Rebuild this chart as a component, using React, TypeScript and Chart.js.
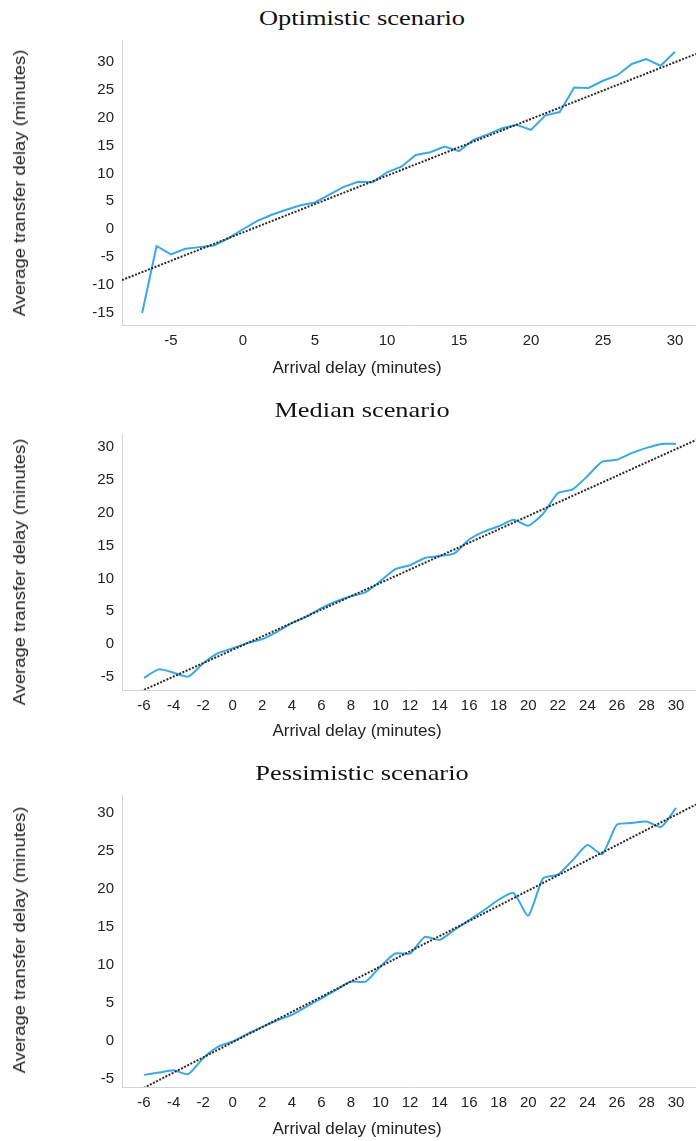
import React, { useEffect, useRef } from "react";
import { Chart, registerables } from "chart.js";

Chart.register(...registerables);

// ---------- Data ----------
const optimisticX = [-7, -6, -5, -4, -3, -2, -1, 0, 1, 2, 3, 4, 5, 6, 7, 8, 9, 10, 11, 12, 13, 14, 15, 16, 17, 18, 19, 20, 21, 22, 23, 24, 25, 26, 27, 28, 29, 30];
const optimisticY = [-15, -3.0, -4.5, -3.5, -3.2, -2.9, -1.6, 0.0, 1.5, 2.6, 3.5, 4.3, 4.8, 6.2, 7.6, 8.5, 8.4, 10.2, 11.2, 13.3, 13.8, 14.8, 14.0, 16.0, 17.0, 18.1, 18.7, 17.8, 20.4, 21.0, 25.4, 25.3, 26.6, 27.6, 29.6, 30.5, 29.3, 31.8];
const optimisticTrendX = [-8.4, 31.46];
const optimisticTrendY = [-9.1, 31.4];

const medianX = [-6, -5, -4, -3, -2, -1, 0, 1, 2, 3, 4, 5, 6, 7, 8, 9, 10, 11, 12, 13, 14, 15, 16, 17, 18, 19, 20, 21, 22, 23, 24, 25, 26, 27, 28, 29, 30];
const medianY = [-5.1, -3.8, -4.3, -4.9, -2.9, -1.35, -0.6, 0.2, 0.8, 1.9, 3.2, 4.2, 5.5, 6.5, 7.3, 7.9, 9.6, 11.4, 12.0, 13.1, 13.4, 13.8, 15.9, 17.1, 17.9, 18.9, 18.0, 19.8, 22.9, 23.5, 25.5, 27.7, 28.0, 29.0, 29.8, 30.4, 30.4];
const medianTrendX = [-7.5, 31.35];
const medianTrendY = [-8.44, 30.99];

const pessimisticX = [-6, -5, -4, -3, -2, -1, 0, 1, 2, 3, 4, 5, 6, 7, 8, 9, 10, 11, 12, 13, 14, 15, 16, 17, 18, 19, 20, 21, 22, 23, 24, 25, 26, 27, 28, 29, 30];
const pessimisticY = [-4.5, -4.2, -3.9, -4.4, -2.3, -0.8, -0.1, 0.9, 1.8, 2.7, 3.4, 4.5, 5.6, 6.7, 7.8, 7.8, 9.8, 11.5, 11.5, 13.7, 13.3, 14.6, 15.9, 17.2, 18.6, 19.5, 16.5, 21.4, 21.9, 23.8, 25.8, 24.6, 28.5, 28.7, 28.9, 28.2, 30.7];
const pessimisticTrendX = [-7.5, 31.35];
const pessimisticTrendY = [-7.7, 31.15];

const optimisticXTicks = [-5, 0, 5, 10, 15, 20, 25, 30];
const optimisticYTicks = [-15, -10, -5, 0, 5, 10, 15, 20, 25, 30];
const evenXTicks = [-6, -4, -2, 0, 2, 4, 6, 8, 10, 12, 14, 16, 18, 20, 22, 24, 26, 28, 30];
const shortYTicks = [-5, 0, 5, 10, 15, 20, 25, 30];

const titles = ["Optimistic scenario", "Median scenario", "Pessimistic scenario"];
const xAxisTitle = "Arrival delay (minutes)";
const yAxisTitle = "Average transfer delay (minutes)";

// ---------- Styles ----------
const LINE_BLUE = "#39a8e4";
const TICK_FONT = { family: "'Liberation Sans', Arial, sans-serif", size: 15 };
const TICK_COLOR = "#222";
const AXIS_COLOR = "#d4d4d4";

type PanelProps = {
  xs: number[];
  ys: number[];
  tx: number[];
  ty: number[];
  xMin: number;
  xMax: number;
  yMin: number;
  yMax: number;
  xTicks: number[];
  yTicks: number[];
  plotTop: number;
  plotHeight: number;
  tension: number;
};

const PAD_TOP = 10;
const TOP_EXTRA = 7; // extra offset chart.js adds for the top tick label
const X_AXIS_H = 40;
const Y_AXIS_W = 122;
const WIDTH = 696;

function Panel(p: PanelProps) {
  const ref = useRef<HTMLCanvasElement | null>(null);
  useEffect(() => {
    if (!ref.current) return;
    const chart = new Chart(ref.current, {
      type: "line",
      data: {
        datasets: [
          {
            data: p.tx.map((x, i) => ({ x, y: p.ty[i] })),
            borderColor: "#2a2a2a",
            borderWidth: 2,
            borderDash: [2, 1.5],
            pointRadius: 0,
            tension: 0,
          },
          {
            data: p.xs.map((x, i) => ({ x, y: p.ys[i] })),
            borderColor: LINE_BLUE,
            borderWidth: 2,
            pointRadius: 0,
            tension: p.tension,
          },
        ],
      },
      options: {
        responsive: false,
        maintainAspectRatio: false,
        animation: false,
        layout: { padding: { top: PAD_TOP, left: 0, right: 0, bottom: 0 } },
        plugins: {
          legend: { display: false },
          tooltip: { enabled: false },
          title: { display: false },
        },
        scales: {
          x: {
            type: "linear",
            min: p.xMin,
            max: p.xMax,
            grid: { display: false, drawTicks: false },
            border: { display: true, color: AXIS_COLOR, width: 1 },
            ticks: { font: TICK_FONT, color: TICK_COLOR, padding: 7, maxRotation: 0, autoSkip: false },
            afterBuildTicks: (s: any) => {
              s.ticks = p.xTicks.map((v) => ({ value: v }));
            },
            afterFit: (s: any) => {
              s.height = X_AXIS_H;
            },
          },
          y: {
            type: "linear",
            min: p.yMin,
            max: p.yMax,
            grid: { display: false, drawTicks: false },
            border: { display: true, color: AXIS_COLOR, width: 1 },
            ticks: { font: TICK_FONT, color: TICK_COLOR, padding: 8, autoSkip: false },
            afterBuildTicks: (s: any) => {
              s.ticks = p.yTicks.map((v) => ({ value: v }));
            },
            afterFit: (s: any) => {
              s.width = Y_AXIS_W;
            },
          },
        },
      },
    } as any);
    return () => chart.destroy();
  }, []);
  const off = PAD_TOP + TOP_EXTRA;
  const h = off + p.plotHeight + X_AXIS_H;
  return (
    <canvas
      ref={ref}
      width={WIDTH}
      height={h}
      style={{ position: "absolute", left: 0, top: p.plotTop - off, width: WIDTH, height: h }}
    />
  );
}

const serif = "'Liberation Serif', 'Times New Roman', serif";
const sans = "'Liberation Sans', Arial, sans-serif";

function Title({ text, cy }: { text: string; cy: number }) {
  return (
    <div
      style={{
        position: "absolute",
        left: 362,
        top: cy,
        transform: "translate(-50%, -50%) scaleX(1.2)",
        fontFamily: serif,
        fontSize: 22,
        lineHeight: "22px",
        whiteSpace: "nowrap",
        color: "#111",
      }}
    >
      {text}
    </div>
  );
}

function XTitle({ cy }: { cy: number }) {
  return (
    <div
      style={{
        position: "absolute",
        left: 357,
        top: cy,
        transform: "translate(-50%, -50%)",
        fontFamily: sans,
        fontSize: 17,
        lineHeight: "17px",
        whiteSpace: "nowrap",
        color: "#222",
      }}
    >
      {xAxisTitle}
    </div>
  );
}

function YTitle({ cy }: { cy: number }) {
  return (
    <div
      style={{
        position: "absolute",
        left: 20,
        top: cy,
        transform: "translate(-50%, -50%) rotate(-90deg) scaleX(1.15)",
        fontFamily: sans,
        fontSize: 16,
        lineHeight: "16px",
        whiteSpace: "nowrap",
        color: "#222",
      }}
    >
      {yAxisTitle}
    </div>
  );
}

export default function App() {
  return (
    <div style={{ position: "absolute", left: 0, top: 0, width: 696, height: 1141, background: "#fff", overflow: "hidden" }}>
      <Title text={titles[0]} cy={18} />
      <Panel
        xs={optimisticX}
        ys={optimisticY}
        tx={optimisticTrendX}
        ty={optimisticTrendY}
        xMin={-8.4}
        xMax={31.46}
        yMin={-17.15}
        yMax={33.9}
        xTicks={optimisticXTicks}
        yTicks={optimisticYTicks}
        plotTop={40}
        plotHeight={285}
        tension={0}
      />
      <XTitle cy={367} />
      <YTitle cy={183} />

      <Title text={titles[1]} cy={410} />
      <Panel
        xs={medianX}
        ys={medianY}
        tx={medianTrendX}
        ty={medianTrendY}
        xMin={-7.49}
        xMax={31.35}
        yMin={-6.93}
        yMax={31.9}
        xTicks={evenXTicks}
        yTicks={shortYTicks}
        plotTop={434}
        plotHeight={256}
        tension={0.2}
      />
      <XTitle cy={730} />
      <YTitle cy={572} />

      <Title text={titles[2]} cy={773} />
      <Panel
        xs={pessimisticX}
        ys={pessimisticY}
        tx={pessimisticTrendX}
        ty={pessimisticTrendY}
        xMin={-7.49}
        xMax={31.35}
        yMin={-6.1}
        yMax={32.4}
        xTicks={evenXTicks}
        yTicks={shortYTicks}
        plotTop={795}
        plotHeight={292}
        tension={0.2}
      />
      <XTitle cy={1128} />
      <YTitle cy={940} />
    </div>
  );
}
